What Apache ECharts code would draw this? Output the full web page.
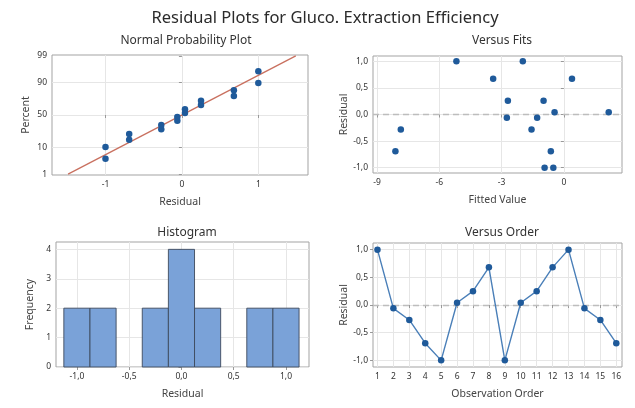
<!DOCTYPE html>
<html><head><meta charset="utf-8">
<script src="https://cdn.jsdelivr.net/npm/echarts@6/dist/echarts.min.js"></script>
<style>html,body{margin:0;padding:0;background:#fff}#c{width:635px;height:408px}</style>
</head><body><div id="c"></div>
<script>
// ---- texts ----
const mainTitle = 'Residual Plots for Gluco. Extraction Efficiency';
const panelTitles = ['Normal Probability Plot', 'Versus Fits', 'Histogram', 'Versus Order'];

// ---- Normal probability plot ----
const probResidual = [-1.0, -1.0, -0.69, -0.69, -0.27, -0.27, -0.06, -0.06, 0.04, 0.04, 0.25, 0.25, 0.68, 0.68, 1.0, 1.0];
const probPercent = [4.3, 10.4, 16.5, 22.6, 28.7, 34.8, 40.9, 47.0, 53.0, 59.1, 65.2, 71.3, 77.4, 83.5, 89.6, 95.7];
const fitLineResidual = [-1.49, 1.49];
const fitLinePercent = [1, 99];
const percentTicks = [1, 10, 50, 90, 99];
const percentGrid = [10, 50, 90];
const probResidualTicks = [-1, 0, 1];

// ---- Versus fits ----
const fittedValues = [-5.18, -1.98, -3.41, 0.39, -2.70, -0.98, -0.45, 2.16, -2.75, -1.29, -7.86, -1.56, -8.12, -0.63, -0.93, -0.51];
const fitsResidual = [1.0, 1.0, 0.67, 0.67, 0.26, 0.26, 0.04, 0.04, -0.06, -0.06, -0.28, -0.28, -0.69, -0.69, -1.0, -1.0];
const fittedTicks = [-9, -6, -3, 0];
const residualTicks = [-1, -0.5, 0, 0.5, 1];

// ---- Histogram ----
const binCenters = [-1.0, -0.75, -0.5, -0.25, 0.0, 0.25, 0.5, 0.75, 1.0];
const binCounts = [2, 2, 0, 2, 4, 2, 0, 2, 2];
const binWidth = 0.25;
const freqTicks = [0, 1, 2, 3, 4];

// ---- Versus order ----
const orders = [1, 2, 3, 4, 5, 6, 7, 8, 9, 10, 11, 12, 13, 14, 15, 16];
const orderResidual = [1.0, -0.06, -0.27, -0.69, -1.0, 0.04, 0.25, 0.68, -1.0, 0.04, 0.25, 0.68, 1.0, -0.06, -0.27, -0.69];

// inverse standard normal (probability-scale transform for the axis)
function probit(p) {
  const a = [-3.969683028665376e+01, 2.209460984245205e+02, -2.759285104469687e+02, 1.383577518672690e+02, -3.066479806614716e+01, 2.506628277459239e+00];
  const b = [-5.447609879822406e+01, 1.615858368580409e+02, -1.556989798598866e+02, 6.680131188771972e+01, -1.328068155288572e+01];
  const c = [-7.784894002430293e-03, -3.223964580411365e-01, -2.400758277161838e+00, -2.549732539343734e+00, 4.374664141464968e+00, 2.938163982698783e+00];
  const d = [7.784695709041462e-03, 3.224671290700398e-01, 2.445134137142996e+00, 3.754408661907416e+00];
  const pl = 0.02425, ph = 1 - pl;
  let q, r;
  if (p < pl) { q = Math.sqrt(-2 * Math.log(p)); return (((((c[0]*q+c[1])*q+c[2])*q+c[3])*q+c[4])*q+c[5]) / ((((d[0]*q+d[1])*q+d[2])*q+d[3])*q+1); }
  if (p <= ph) { q = p - 0.5; r = q*q; return (((((a[0]*r+a[1])*r+a[2])*r+a[3])*r+a[4])*r+a[5])*q / (((((b[0]*r+b[1])*r+b[2])*r+b[3])*r+b[4])*r+1); }
  q = Math.sqrt(-2 * Math.log(1 - p));
  return -(((((c[0]*q+c[1])*q+c[2])*q+c[3])*q+c[4])*q+c[5]) / ((((d[0]*q+d[1])*q+d[2])*q+d[3])*q+1);
}
const pz = p => probit(p / 100);

const FONT = 'Noto Sans';
const comma = v => (Math.round(v * 10) / 10).toFixed(1).replace('.', ',');
const gridLineStyle = { color: '#e6e6e6', width: 1 };
const labelStyle = { fontFamily: FONT, fontSize: 8.5, color: '#333', margin: 5 };
const nameStyle = { fontFamily: FONT, fontSize: 10.5, color: '#444' };
const tickStyle = { show: true, length: 3, lineStyle: { color: '#999' } };

function xAx(grid, min, max, split, ticks, fmt, name) {
  return {
    type: 'value', gridIndex: grid, min, max, splitNumber: split,
    name, nameLocation: 'middle', nameGap: 22, nameTextStyle: nameStyle,
    axisLine: { show: false },
    axisTick: Object.assign({ customValues: ticks }, tickStyle),
    axisLabel: Object.assign({ customValues: ticks, formatter: fmt }, labelStyle),
    splitLine: { show: true, lineStyle: gridLineStyle }
  };
}
function yAx(grid, min, max, split, ticks, fmt, name, extra) {
  return Object.assign({
    type: 'value', gridIndex: grid, min, max, splitNumber: split,
    name, nameLocation: 'middle', nameGap: 20, nameTextStyle: nameStyle,
    axisLine: { show: false },
    axisTick: Object.assign({ customValues: ticks }, tickStyle),
    axisLabel: Object.assign({ customValues: ticks, formatter: fmt }, labelStyle),
    splitLine: { show: true, lineStyle: gridLineStyle }
  }, extra || {});
}

const gridBase = { show: true, borderColor: '#a3a3a3', borderWidth: 1, backgroundColor: '#fff' };
const markerColor = '#1f5a9a';
const subTitleStyle = { fontFamily: FONT, fontSize: 12, fontWeight: 'normal', color: '#333' };

const option = {
  animation: false,
  backgroundColor: '#fff',
  title: [
    { text: mainTitle, left: 320, top: 5, textAlign: 'center', textStyle: { fontFamily: FONT, fontSize: 16.5, fontWeight: 'normal', color: '#2b2b2b' } },
    { text: panelTitles[0], left: 181, top: 30, textAlign: 'center', textStyle: subTitleStyle },
    { text: panelTitles[1], left: 497, top: 30, textAlign: 'center', textStyle: subTitleStyle },
    { text: panelTitles[2], left: 182, top: 222, textAlign: 'center', textStyle: subTitleStyle },
    { text: panelTitles[3], left: 497, top: 222, textAlign: 'center', textStyle: subTitleStyle }
  ],
  grid: [
    Object.assign({ left: 52, top: 55, width: 256, height: 120 }, gridBase),
    Object.assign({ left: 373, top: 56, width: 249, height: 117 }, gridBase),
    Object.assign({ left: 56, top: 242, width: 253, height: 125 }, gridBase),
    Object.assign({ left: 373, top: 243, width: 249, height: 124 }, gridBase)
  ],
  xAxis: [
    xAx(0, -1.7, 1.65, 7, probResidualTicks, v => String(Math.round(v)), 'Residual'),
    xAx(1, -9.2, 2.8, 4, fittedTicks, v => String(Math.round(v)), 'Fitted Value'),
    xAx(2, -1.2, 1.22, 5, residualTicks, comma, 'Residual'),
    xAx(3, 0.72, 16.36, 15, orders, v => String(Math.round(v)), 'Observation Order')
  ],
  yAxis: [
    yAx(0, -2.36, 2.36, 4, percentTicks.map(pz), v => {
      let best = percentTicks[0], bd = 1e9;
      percentTicks.forEach(p => { const dd = Math.abs(pz(p) - v); if (dd < bd) { bd = dd; best = p; } });
      return String(best);
    }, 'Percent', { splitLine: { show: false } }),
    yAx(1, -1.1, 1.1, 4, residualTicks, comma, 'Residual'),
    yAx(2, 0, 4.25, 4, freqTicks, v => String(Math.round(v)), 'Frequency', { interval: 1 }),
    yAx(3, -1.12, 1.12, 4, residualTicks, comma, 'Residual')
  ],
  series: [
    { // gridlines for the probability scale
      type: 'line', xAxisIndex: 0, yAxisIndex: 0, data: [], z: 0, silent: true,
      markLine: { silent: true, symbol: 'none', label: { show: false }, animation: false, z: 0,
        lineStyle: { color: '#e6e6e6', width: 1, type: 'solid' },
        data: percentGrid.map(p => ({ yAxis: pz(p) })) }
    },
    {
      type: 'line', xAxisIndex: 0, yAxisIndex: 0, z: 5, showSymbol: false, silent: true,
      data: fitLineResidual.map((r, i) => [r, pz(fitLinePercent[i])]),
      lineStyle: { color: '#c9705f', width: 1.3 }
    },
    {
      type: 'scatter', xAxisIndex: 0, yAxisIndex: 0, z: 10, symbolSize: 6.5,
      itemStyle: { color: markerColor, opacity: 1 },
      data: probResidual.map((r, i) => [r, pz(probPercent[i])])
    },
    {
      type: 'scatter', xAxisIndex: 1, yAxisIndex: 1, z: 10, symbolSize: 6.5,
      itemStyle: { color: markerColor, opacity: 1 },
      data: fittedValues.map((f, i) => [f, fitsResidual[i]])
    },
    {
      type: 'line', xAxisIndex: 1, yAxisIndex: 1, data: [], z: 1, silent: true,
      markLine: { silent: true, symbol: 'none', label: { show: false }, animation: false,
        lineStyle: { color: '#bdbdbd', width: 1.3, type: [6, 4] }, data: [{ yAxis: 0 }] }
    },
    {
      type: 'custom', xAxisIndex: 2, yAxisIndex: 2, z: 3,
      data: binCenters.map((c, i) => [c, binCounts[i]]),
      renderItem: (params, api) => {
        const c = api.value(0), n = api.value(1);
        if (!n) return { type: 'group', children: [] };
        const p0 = api.coord([c - binWidth / 2, n]);
        const p1 = api.coord([c + binWidth / 2, 0]);
        return { type: 'rect', shape: { x: p0[0], y: p0[1], width: p1[0] - p0[0], height: p1[1] - p0[1] },
          style: { fill: '#7aa2d8', stroke: '#3d4a5c', lineWidth: 0.9 } };
      }
    },
    {
      type: 'line', xAxisIndex: 3, yAxisIndex: 3, data: [], z: 1, silent: true,
      markLine: { silent: true, symbol: 'none', label: { show: false }, animation: false,
        lineStyle: { color: '#bdbdbd', width: 1.3, type: [6, 4] }, data: [{ yAxis: 0 }] }
    },
    {
      type: 'line', xAxisIndex: 3, yAxisIndex: 3, z: 10,
      symbol: 'circle', symbolSize: 6.5, showSymbol: true,
      lineStyle: { color: '#4a7fb8', width: 1.4 },
      itemStyle: { color: markerColor },
      data: orders.map((o, i) => [o, orderResidual[i]])
    }
  ]
};
const chart = echarts.init(document.getElementById('c'), null, { renderer: 'canvas' });
chart.setOption(option);
</script>
</body></html>
